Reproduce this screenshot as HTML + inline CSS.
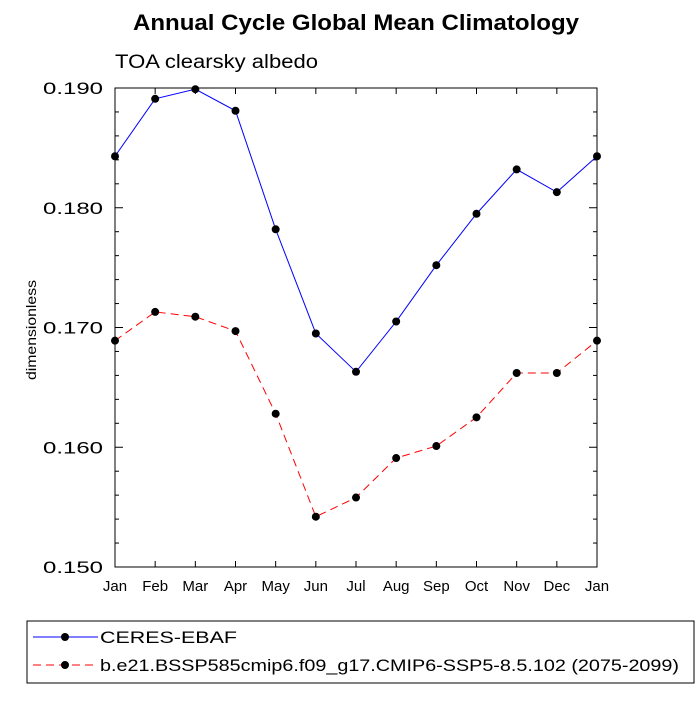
<!DOCTYPE html>
<html><head><meta charset="utf-8"><style>
body{margin:0;background:#fff;}
svg text{font-family:"Liberation Sans",sans-serif;}
</style></head><body>
<svg id="chart" width="700" height="700" xmlns="http://www.w3.org/2000/svg">
<text x="356" y="30" text-anchor="middle" font-size="22" font-weight="bold" textLength="446" lengthAdjust="spacingAndGlyphs">Annual Cycle Global Mean Climatology</text>
<text x="115" y="68" font-size="19" textLength="203" lengthAdjust="spacingAndGlyphs">TOA clearsky albedo</text>
<text transform="translate(36,330) rotate(-90)" text-anchor="middle" font-size="14" textLength="100" lengthAdjust="spacingAndGlyphs">dimensionless</text>
<g id="plot"></g>
<rect x="27" y="621" width="667" height="62" fill="none" stroke="#000" stroke-width="1"/>
<line x1="33" y1="637" x2="98" y2="637" stroke="#0000ff"/>
<circle cx="65" cy="637" r="4" fill="#000"/>
<text x="100" y="643" font-size="17" textLength="137" lengthAdjust="spacingAndGlyphs">CERES-EBAF</text>
<line x1="33" y1="665" x2="98" y2="665" stroke="#ff0000" stroke-dasharray="8,5"/>
<circle cx="65" cy="665" r="4" fill="#000"/>
<text x="100" y="671" font-size="17" textLength="579" lengthAdjust="spacingAndGlyphs">b.e21.BSSP585cmip6.f09_g17.CMIP6-SSP5-8.5.102 (2075-2099)</text>
</svg>
<script>
const months = ["Jan","Feb","Mar","Apr","May","Jun","Jul","Aug","Sep","Oct","Nov","Dec","Jan"];
const ceres = [0.1843,0.1891,0.1899,0.1881,0.1782,0.1695,0.1663,0.1705,0.1752,0.1795,0.1832,0.1813,0.1843];
const model = [0.1689,0.1713,0.1709,0.1697,0.1628,0.1542,0.1558,0.1591,0.1601,0.1625,0.1662,0.1662,0.1689];
const yTicks = [0.150,0.160,0.170,0.180,0.190];
const yTickLabels = ["0.150","0.160","0.170","0.180","0.190"];

const X0=115,X1=597,Y0=88,Y1=567,YMIN=0.150,YMAX=0.190;
const xs=i=>X0+(X1-X0)*i/(months.length-1);
const ys=v=>Y1-(v-YMIN)/(YMAX-YMIN)*(Y1-Y0);
const NS="http://www.w3.org/2000/svg";
const g=document.getElementById("plot");
function mk(tag,attrs){const e=document.createElementNS(NS,tag);for(const k in attrs)e.setAttribute(k,attrs[k]);g.appendChild(e);return e;}

const frame=mk("rect",{x:X0,y:Y0,width:X1-X0,height:Y1-Y0,fill:"none",stroke:"#000","stroke-width":1});



months.forEach((m,i)=>{
  const x=xs(i);
  const t1=mk("line",{x1:x,y1:Y1,x2:x,y2:Y1-6,stroke:"#000"});
  
  
  const t2=mk("line",{x1:x,y1:Y0,x2:x,y2:Y0+6,stroke:"#000"});
  
  
  const lb=mk("text",{x:x,y:Y1+24,"text-anchor":"middle","font-size":"15"});
  lb.textContent=m;
  
  
});
for(let v=YMIN;v<=YMAX+1e-9;v+=0.002){
  const y=ys(v);
  const major=Math.abs(Math.round(v*100)-v*100)<1e-6;
  const L=major?8:4;
  const a=mk("line",{x1:X0,y1:y,x2:X0+L,y2:y,stroke:"#000"});
  
  
  const b=mk("line",{x1:X1,y1:y,x2:X1-L,y2:y,stroke:"#000"});
  
  
}
yTicks.forEach((v,i)=>{
  const t=mk("text",{x:X0-12,y:ys(v)+6,"text-anchor":"end","font-size":"17",textLength:"60",lengthAdjust:"spacingAndGlyphs"});
  t.textContent=yTickLabels[i];
  
  
});
function series(vals,color,dash,name){
  const p=mk("polyline",{points:vals.map((v,i)=>xs(i)+","+ys(v)).join(" "),fill:"none",stroke:color,"stroke-width":1,"stroke-dasharray":dash});
  
  
  vals.forEach((v,i)=>{
    const c=mk("circle",{cx:xs(i),cy:ys(v),r:4,fill:"#000"});
    
    
  });
}
series(ceres,"#0000ff","none","ceres");
series(model,"#ff0000","8,5","model");
</script>
</body></html>
